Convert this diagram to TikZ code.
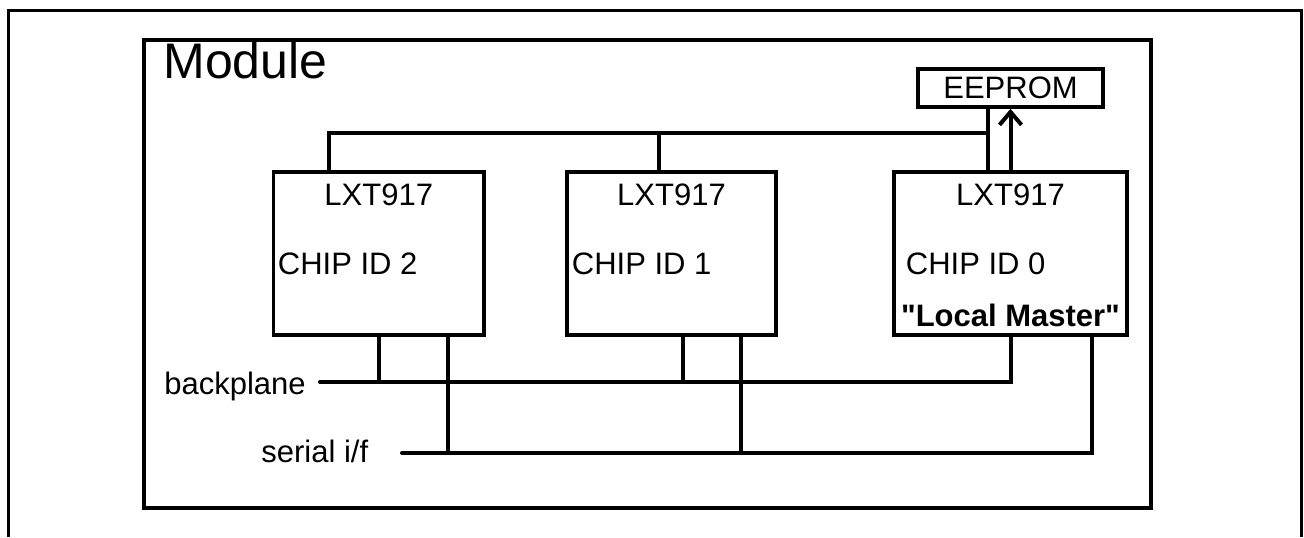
\documentclass[tikz,border=0pt]{standalone}
\usepackage{fontspec}
\setmainfont{Liberation Sans}
\usetikzlibrary{arrows.meta,positioning}

\begin{document}
\begin{tikzpicture}[
      x=0.5pt, y=-0.5pt,
      font=\fontsize{15.5}{18}\selectfont,
      >={Straight Barb[length=6.5pt,width=11pt]},
      wire/.style={line width=2pt},
      chip/.style={draw,line width=1.8pt,inner sep=0pt,minimum height=81.5pt},
      mem/.style={draw,line width=1.8pt,inner sep=0pt,minimum width=92.5pt,minimum height=19pt},
      txt/.style={inner sep=0pt}
    ]
    \useasboundingbox (0,0) rectangle (1304,537);

    % Frame and module
    \draw[line width=1.5pt] (8.5,537) -- (8.5,10) -- (1301,10) -- (1301,537);
    \node (module) [draw,line width=1.8pt,inner sep=0pt,minimum width=503.5pt,minimum height=234pt] at (647.5,274) {};
    \node (modlbl) [txt,anchor=base west,font=\fontsize{25}{30}\selectfont] at (163,78) {Module};

    % Chips
    \node (chip2) [chip, minimum width=105.25pt] at (378.75,253.5) {};
    \node (chip1) [chip, minimum width=104.5pt]  at (671.5,253.5)  {};
    \node (chip0) [chip, minimum width=116.5pt]  at (1010.5,253.5) {};
    \node (eeprom) [mem] at (1010.5,88) {EEPROM};

    % Chip labels
    \node (name2) [txt, below=6.4pt of chip2.north] {LXT917};
    \node (name1) [txt, below=6.4pt of chip1.north] {LXT917};
    \node (name0) [txt, below=6.4pt of chip0.north] {LXT917};
    \node (id2) [txt, anchor=west] at ([xshift=2.9pt,yshift=-5.25pt]chip2.west)  {CHIP ID 2};
    \node (id1) [txt, anchor=west] at ([xshift=3.15pt,yshift=-5.25pt]chip1.west) {CHIP ID 1};
    \node (id0) [txt, anchor=west] at ([xshift=6.65pt,yshift=-5.25pt]chip0.west) {CHIP ID 0};
    \node (master) [txt, above=4.9pt of chip0.south, font=\fontsize{15.5}{18}\selectfont\bfseries] {\textquotedbl Local Master\textquotedbl};

    % Top bus
    \coordinate (t2) at (329,133);
    \coordinate (t1) at (659,133);
    \coordinate (t0) at (988,133);
    \draw[wire] (t2 |- chip2.north) -- (t2) -- (t0);
    \draw[wire] (t1) -- (t1 |- chip1.north);
    \draw[wire] (t0 |- eeprom.south) -- (t0 |- chip0.north);
    \draw[wire,->] (chip0.north) -- (eeprom.south);

    % Backplane and serial lines
    \node (bp) [txt, anchor=base west] at (164,394) {backplane};
    \node (sf) [txt, anchor=base west] at (261,462) {serial i/f};
    \coordinate (bpL) at (320,382);
    \coordinate (sfL) at (402,453);
    \coordinate (sfR) at (1092,453);
    \draw[wire,line cap=round] (bpL) -- (bpL -| chip0.south) -- (chip0.south);
    \draw[wire,line cap=round] (sfL) -- (sfR) -- (sfR |- chip0.south);

    \coordinate (s2) at (448,453);
    \coordinate (b1) at (683,382);
    \coordinate (s1) at (741,453);
    \draw[wire] (chip2.south) -- (chip2.south |- bpL);
    \draw[wire] (s2) -- (s2 |- chip2.south);
    \draw[wire] (b1) -- (b1 |- chip1.south);
    \draw[wire] (s1) -- (s1 |- chip1.south);
  \end{tikzpicture}
\end{document}
